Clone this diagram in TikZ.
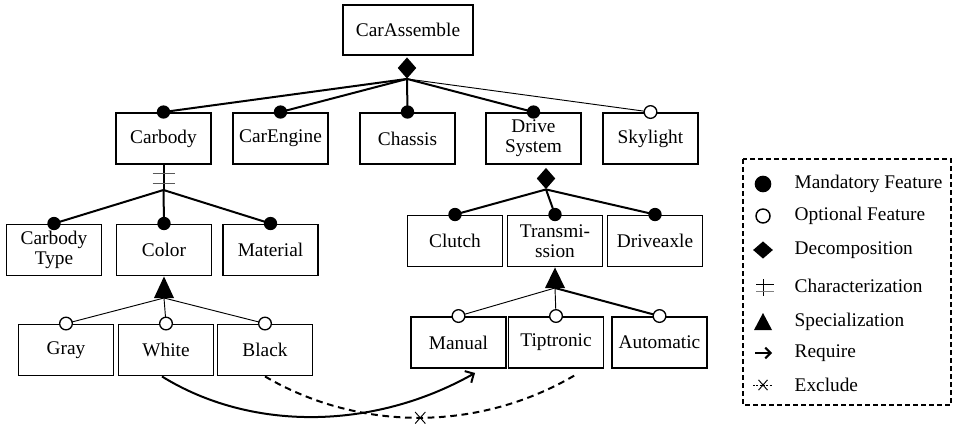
\documentclass[tikz,border=0pt]{standalone}
\usepackage{fontspec}
\setmainfont{Liberation Serif}[Ligatures=TeX]
\usepackage{tikz}
\usetikzlibrary{shapes.geometric, shapes.misc, arrows.meta}

\begin{document}
\begin{tikzpicture}[x=0.75pt, y=-0.75pt, font=\rmfamily\fontsize{14.5}{15}\selectfont,
    feat/.style={draw, align=center, line width=1.2pt, minimum width=71pt, minimum height=38.5pt, inner sep=1pt},
    mand/.style={circle, fill=black, inner sep=0pt, minimum size=10pt},
    opt/.style={circle, draw, fill=white, line width=1pt, inner sep=0pt, minimum size=9.5pt},
    dec/.style={diamond, fill=black, inner sep=0pt, minimum width=14pt, minimum height=16pt},
    thk/.style={line width=1.5pt},
    thn/.style={line width=0.7pt},
    xmark/.style={cross out, draw, thn, inner sep=0pt, minimum width=7pt, minimum height=8pt},
    >={Straight Barb[length=5pt, width=10pt]}]

      \useasboundingbox (0,0) rectangle (953,424);

      % features
      \node[feat, minimum width=97.5pt, minimum height=37.5pt] (CA)  at (408,  30)    {CarAssemble};

      \node[feat]  (CB)  at (163.5, 138.5)  {Carbody};
      \node[feat]  (CE)  at (280.5, 138.5)  {CarEngine};
      \node[feat]  (CH)  at (407.5, 138.5)  {Chassis};
      \node[feat]  (DS)  at (533.5, 138.5)  {Drive \\ System};
      \node[feat]  (SK)  at (650.5, 138.5)  {Skylight};

      \node[feat]  (CT)  at ( 54,   250)    {Carbody \\ Type};
      \node[feat]  (COL) at (164,   250)    {Color};
      \node[feat]  (MAT) at (270.5, 250)    {Material};

      \node[feat]  (CL)  at (455,   241)    {Clutch};
      \node[feat]  (TR)  at (555,   241)    {Transmi- \\ ssion};
      \node[feat]  (DA)  at (655,   241)    {Driveaxle};

      \node[feat]  (GR)  at ( 66,   350)    {Gray};
      \node[feat]  (WH)  at (166,   350)    {White};
      \node[feat]  (BL)  at (265,   350)    {Black};

      \node[feat]  (MAN) at (458.5, 342.5)  {Manual};
      \node[feat]  (TIP) at (556,   342.5)  {Tiptronic};
      \node[feat]  (AUT) at (659.5, 342.5)  {Automatic};

      % decomposition of CarAssemble
      \node[dec]   (dCA) at (407, 68) {};
      \draw[thk] (dCA.south) -- (CB.north);
      \draw[thk] (dCA.south) -- (CE.north);
      \draw[thk] (dCA.south) -- (CH.north);
      \draw[thk] (dCA.south) -- (DS.north);
      \draw[thn] (dCA.south) -- (SK.north);
      \node[mand] (mCB) at (CB.north) {};
      \node[mand] (mCE) at (CE.north) {};
      \node[mand] (mCH) at (CH.north) {};
      \node[mand] (mDS) at (DS.north) {};
      \node[opt]  (oSK) at (SK.north) {};

      % characterization of Carbody
      \coordinate (jCB) at (163.5, 190);
      \draw[thk] (CB.south) -- (jCB);
      \draw[thn, gray!70!black] (152.5, 173) -- (174.5, 173) (152.5, 183) -- (174.5, 183);
      \draw[thk] (jCB) -- (CT.north);
      \draw[thk] (jCB) -- (COL.north);
      \draw[thk] (jCB) -- (MAT.north);
      \node[mand] (mCT)  at (CT.north)  {};
      \node[mand] (mCOL) at (COL.north) {};
      \node[mand] (mMAT) at (MAT.north) {};

      % decomposition of Drive System
      \node[dec]   (dDS) at (546, 178.5) {};
      \draw[thk] (dDS.south) -- (CL.north);
      \draw[thk] (dDS.south) -- (TR.north);
      \draw[thk] (dDS.south) -- (DA.north);
      \node[mand] (mCL) at (CL.north) {};
      \node[mand] (mTR) at (TR.north) {};
      \node[mand] (mDA) at (DA.north) {};

      % specialization of Color
      \coordinate (jCOL) at (164, 298);
      \fill (COL.south) -- (154, 298) -- (174, 298) -- cycle;
      \draw[thn] (jCOL) -- (GR.north);
      \draw[thn] (jCOL) -- (WH.north);
      \draw[thn] (jCOL) -- (BL.north);
      \node[opt] (oGR) at (GR.north) {};
      \node[opt] (oWH) at (WH.north) {};
      \node[opt] (oBL) at (BL.north) {};

      % specialization of Transmission
      \coordinate (jTR) at (555, 288);
      \fill (TR.south) -- (545, 288) -- (565, 288) -- cycle;
      \draw[thn] (jTR) -- (MAN.north);
      \draw[thn] (jTR) -- (TIP.north);
      \draw[thk] (jTR) -- (AUT.north);
      \node[opt] (oMAN) at (MAN.north) {};
      \node[opt] (oTIP) at (TIP.north) {};
      \node[opt] (oAUT) at (AUT.north) {};

      % require and exclude
      \draw[thk, ->] ([xshift=-3pt]WH.south) .. controls (250, 431) and (372, 431) .. ([xshift=12.4pt, yshift=-3pt]MAN.south);
      \draw[thk, dashed, dash pattern=on 5pt off 3.5pt] (BL.south) .. controls (360, 432) and (480, 432) .. ([xshift=15.75pt, yshift=-3.75pt]TIP.south)
            node[xmark, pos=0.5, solid] (xEX) {};

      % legend
      \draw[thk, dashed, dash pattern=on 3.5pt off 2.5pt] (743, 159) rectangle (951, 405);

      \node[mand, minimum size=12.5pt]                   (lM) at (763, 184) {};
      \node[opt, minimum size=10.5pt, line width=1.1pt]  (lO) at (763, 216) {};
      \node[dec, minimum width=15pt, minimum height=13pt] (lD) at (763, 250) {};
      \coordinate (lC) at (763, 287);
      \draw[thn] (763, 279) -- (763, 296);
      \draw[thn] (756, 284) -- (774, 284);
      \draw[thn, gray] (756, 291) -- (774, 291);
      \coordinate (lS) at (763, 322);
      \fill (754, 330) -- (763, 313) -- (772, 330) -- cycle;
      \coordinate (lR1) at (755, 353);
      \coordinate (lR2) at (772, 353);
      \draw[thk, ->, >={Straight Barb[length=4pt, width=8pt]}] (lR1) -- (lR2);
      \coordinate (lE1) at (753, 385);
      \coordinate (lE2) at (773, 385);
      \draw[thn, dashed, dash pattern=on 1.5pt off 1pt] (lE1) -- (lE2) node[xmark, pos=0.5, solid, minimum width=6pt, minimum height=7pt] (lX) {};

      \node[anchor=west] (tM) at (790, 184) {Mandatory Feature};
      \node[anchor=west] (tO) at (790, 216) {Optional Feature};
      \node[anchor=west] (tD) at (790, 250) {Decomposition};
      \node[anchor=west] (tC) at (790, 286) {Characterization};
      \node[anchor=west] (tS) at (790, 322) {Specialization};
      \node[anchor=west] (tR) at (790, 353) {Require};
      \node[anchor=west] (tE) at (790, 385) {Exclude};
    \end{tikzpicture}
\end{document}
